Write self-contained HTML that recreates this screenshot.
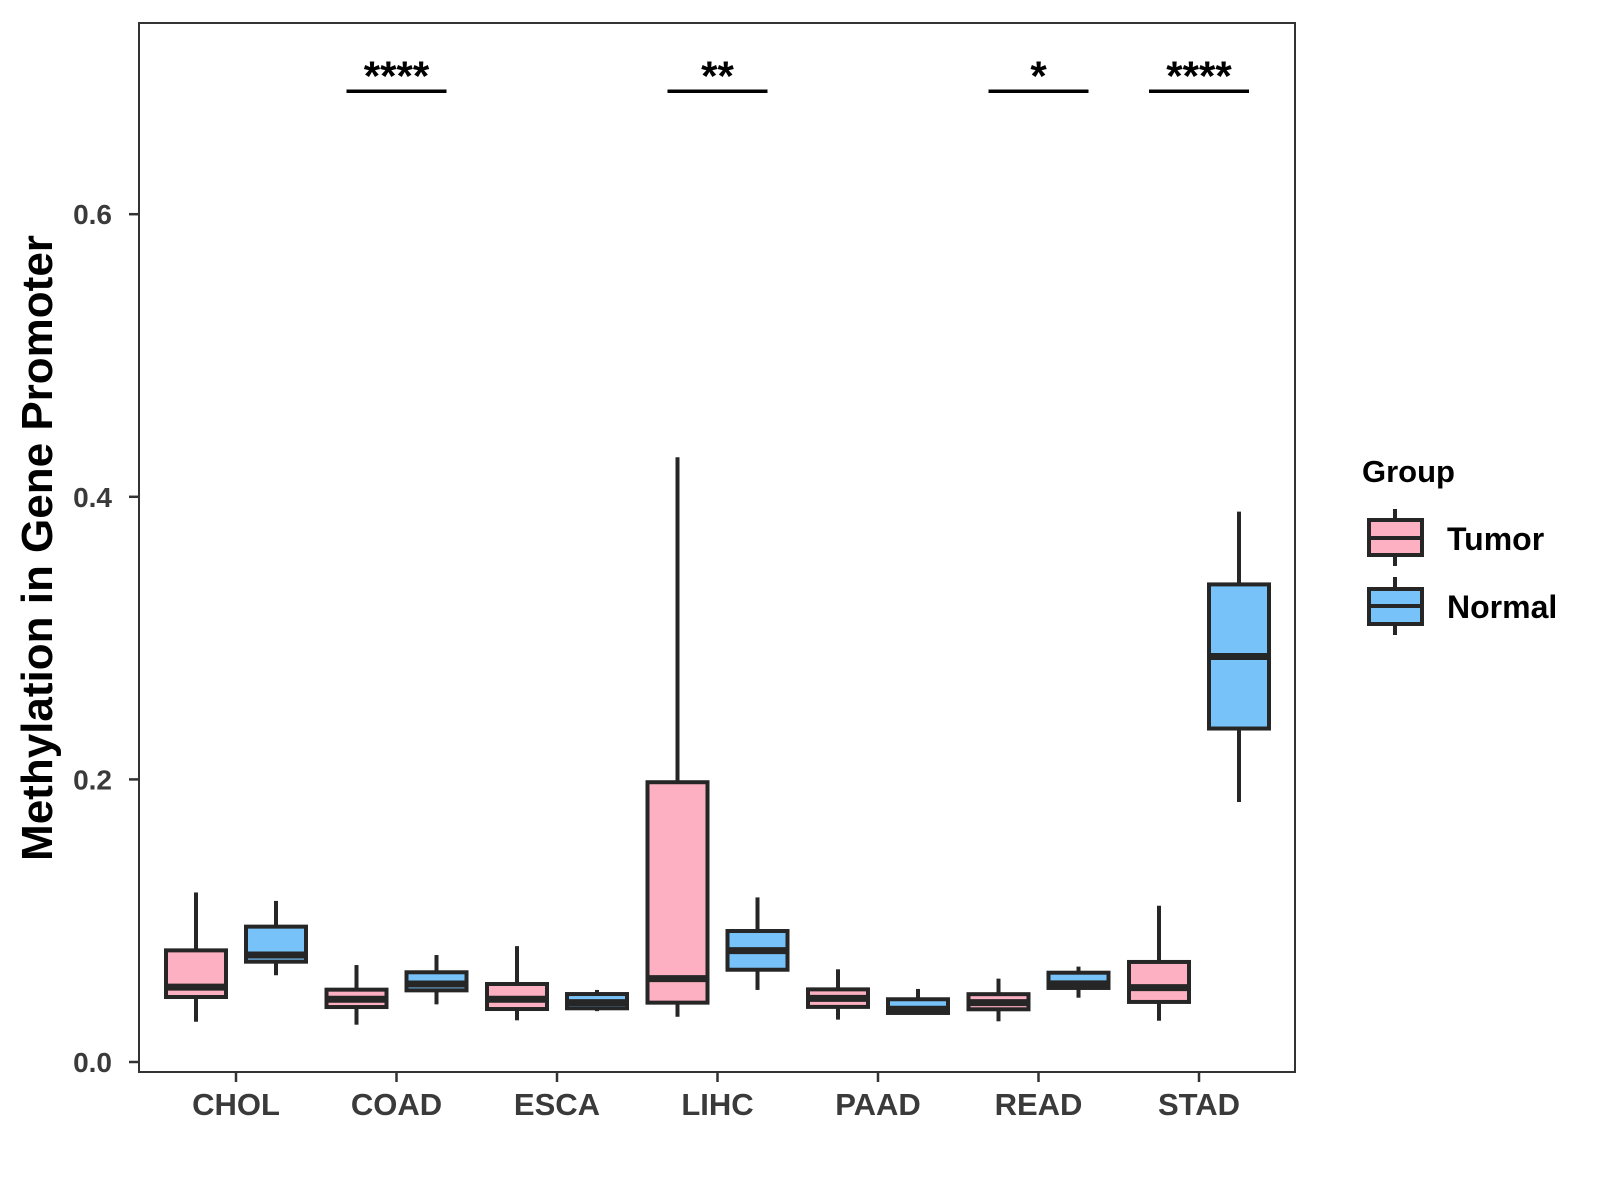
<!DOCTYPE html>
<html><head><meta charset="utf-8"><style>
html,body{margin:0;padding:0;background:#fff;}
svg{display:block;font-family:"Liberation Sans",Arial,sans-serif;}
</style></head><body>
<svg id="chart" width="1600" height="1200" viewBox="0 0 1600 1200" xmlns="http://www.w3.org/2000/svg">
<rect x="0" y="0" width="1600" height="1200" fill="#fff"/>
<g id="marks"></g>
<rect x="139" y="23" width="1156" height="1049" fill="none" stroke="#333" stroke-width="2"/>
<g id="axes"></g>
<text transform="translate(52,548) rotate(-90)" text-anchor="middle" font-size="44" font-weight="bold" fill="#000">Methylation in Gene Promoter</text>
<g>
<text x="1362" y="482" font-size="31" font-weight="bold" fill="#000">Group</text>
<g>
<line x1="1395" y1="509" x2="1395" y2="566" stroke="#262626" stroke-width="4"/>
<rect x="1369" y="520" width="53" height="35" fill="#FCB0C1" stroke="#262626" stroke-width="4"/>
<line x1="1369" y1="538" x2="1422" y2="538" stroke="#262626" stroke-width="4"/>
<text x="1447" y="550" font-size="32" font-weight="bold" fill="#000">Tumor</text>
</g>
<g>
<line x1="1395" y1="577" x2="1395" y2="635" stroke="#262626" stroke-width="4"/>
<rect x="1369" y="589" width="53" height="35" fill="#77C2F8" stroke="#262626" stroke-width="4"/>
<line x1="1369" y1="606" x2="1422" y2="606" stroke="#262626" stroke-width="4"/>
<text x="1447" y="618" font-size="32" font-weight="bold" fill="#000">Normal</text>
</g>
</g>
</svg>
<script>
const categories = ["CHOL","COAD","ESCA","LIHC","PAAD","READ","STAD"];
// [low whisker, Q1, median, Q3, high whisker]
const tumorStats = [
  [0.0285,0.046,0.053,0.079,0.120],
  [0.0264,0.0389,0.0444,0.0512,0.0686],
  [0.0295,0.0375,0.0444,0.0552,0.082],
  [0.032,0.042,0.059,0.198,0.428],
  [0.030,0.039,0.045,0.0514,0.0656],
  [0.0288,0.0373,0.042,0.048,0.059],
  [0.0292,0.0425,0.0526,0.0708,0.1106]
];
const normalStats = [
  [0.0614,0.071,0.0757,0.0958,0.114],
  [0.0408,0.0507,0.0552,0.0635,0.0757],
  [0.036,0.038,0.042,0.0481,0.051],
  [0.051,0.0653,0.0788,0.0927,0.1165],
  [0.034,0.0347,0.0373,0.0444,0.0517],
  [0.0455,0.0524,0.0553,0.0632,0.0675],
  [0.184,0.236,0.287,0.338,0.3895]
];
const yTicks = [0.0,0.2,0.4,0.6];
const yTickLabels = ["0.0","0.2","0.4","0.6"];
const sigLabels = ["","****","","**","","*","****"];
const sigLevel = 0.687;

const NS="http://www.w3.org/2000/svg";
function yScale(v){return 1062 - v*1413;}
function xScale(i){return 236 + i*160.5;}
function mk(tag,attrs,parent){const e=document.createElementNS(NS,tag);for(const k in attrs)e.setAttribute(k,attrs[k]);parent.appendChild(e);return e;}
const marks=document.getElementById('marks');
const axes=document.getElementById('axes');
const boxW=60, off=40;
function drawBox(s,cx,fill,name){
  const g=mk('g',{},marks);
  
  
  mk('line',{x1:cx,x2:cx,y1:yScale(s[4]),y2:yScale(s[3]),stroke:'#262626','stroke-width':4},g);
  mk('line',{x1:cx,x2:cx,y1:yScale(s[1]),y2:yScale(s[0]),stroke:'#262626','stroke-width':4},g);
  mk('rect',{x:cx-boxW/2,y:yScale(s[3]),width:boxW,height:yScale(s[1])-yScale(s[3]),fill:fill,stroke:'#262626','stroke-width':4},g);
  mk('line',{x1:cx-boxW/2,x2:cx+boxW/2,y1:yScale(s[2]),y2:yScale(s[2]),stroke:'#262626','stroke-width':7},g);
}
categories.forEach((c,i)=>{
  const cx=xScale(i);
  drawBox(tumorStats[i],cx-off,'#FCB0C1','box-tumor-'+c.toLowerCase());
  drawBox(normalStats[i],cx+off,'#77C2F8','box-normal-'+c.toLowerCase());
  const t=mk('line',{x1:cx,x2:cx,y1:1072,y2:1082,stroke:'#333','stroke-width':2.5},axes);
  
  
  const l=mk('text',{x:cx,y:1115,'text-anchor':'middle','font-size':31,'font-weight':'bold',fill:'#3a3a3a'},axes);
  l.textContent=c;
  
  
  if(sigLabels[i]){
    const sb=mk('line',{x1:cx-50,x2:cx+50,y1:yScale(sigLevel),y2:yScale(sigLevel),stroke:'#000','stroke-width':3.5},marks);
    
    
    const st=mk('text',{x:cx,y:yScale(sigLevel)-1,'text-anchor':'middle','font-size':42,'font-weight':'bold',fill:'#000'},marks);
    st.textContent=sigLabels[i];
    
    
  }
});
yTicks.forEach((v,i)=>{
  const y=yScale(v);
  const t=mk('line',{x1:129,x2:139,y1:y,y2:y,stroke:'#333','stroke-width':2.5},axes);
  
  
  const l=mk('text',{x:112,y:y+10,'text-anchor':'end','font-size':28,'font-weight':'bold',fill:'#3a3a3a'},axes);
  l.textContent=yTickLabels[i];
  
  
});
</script>
</body></html>
